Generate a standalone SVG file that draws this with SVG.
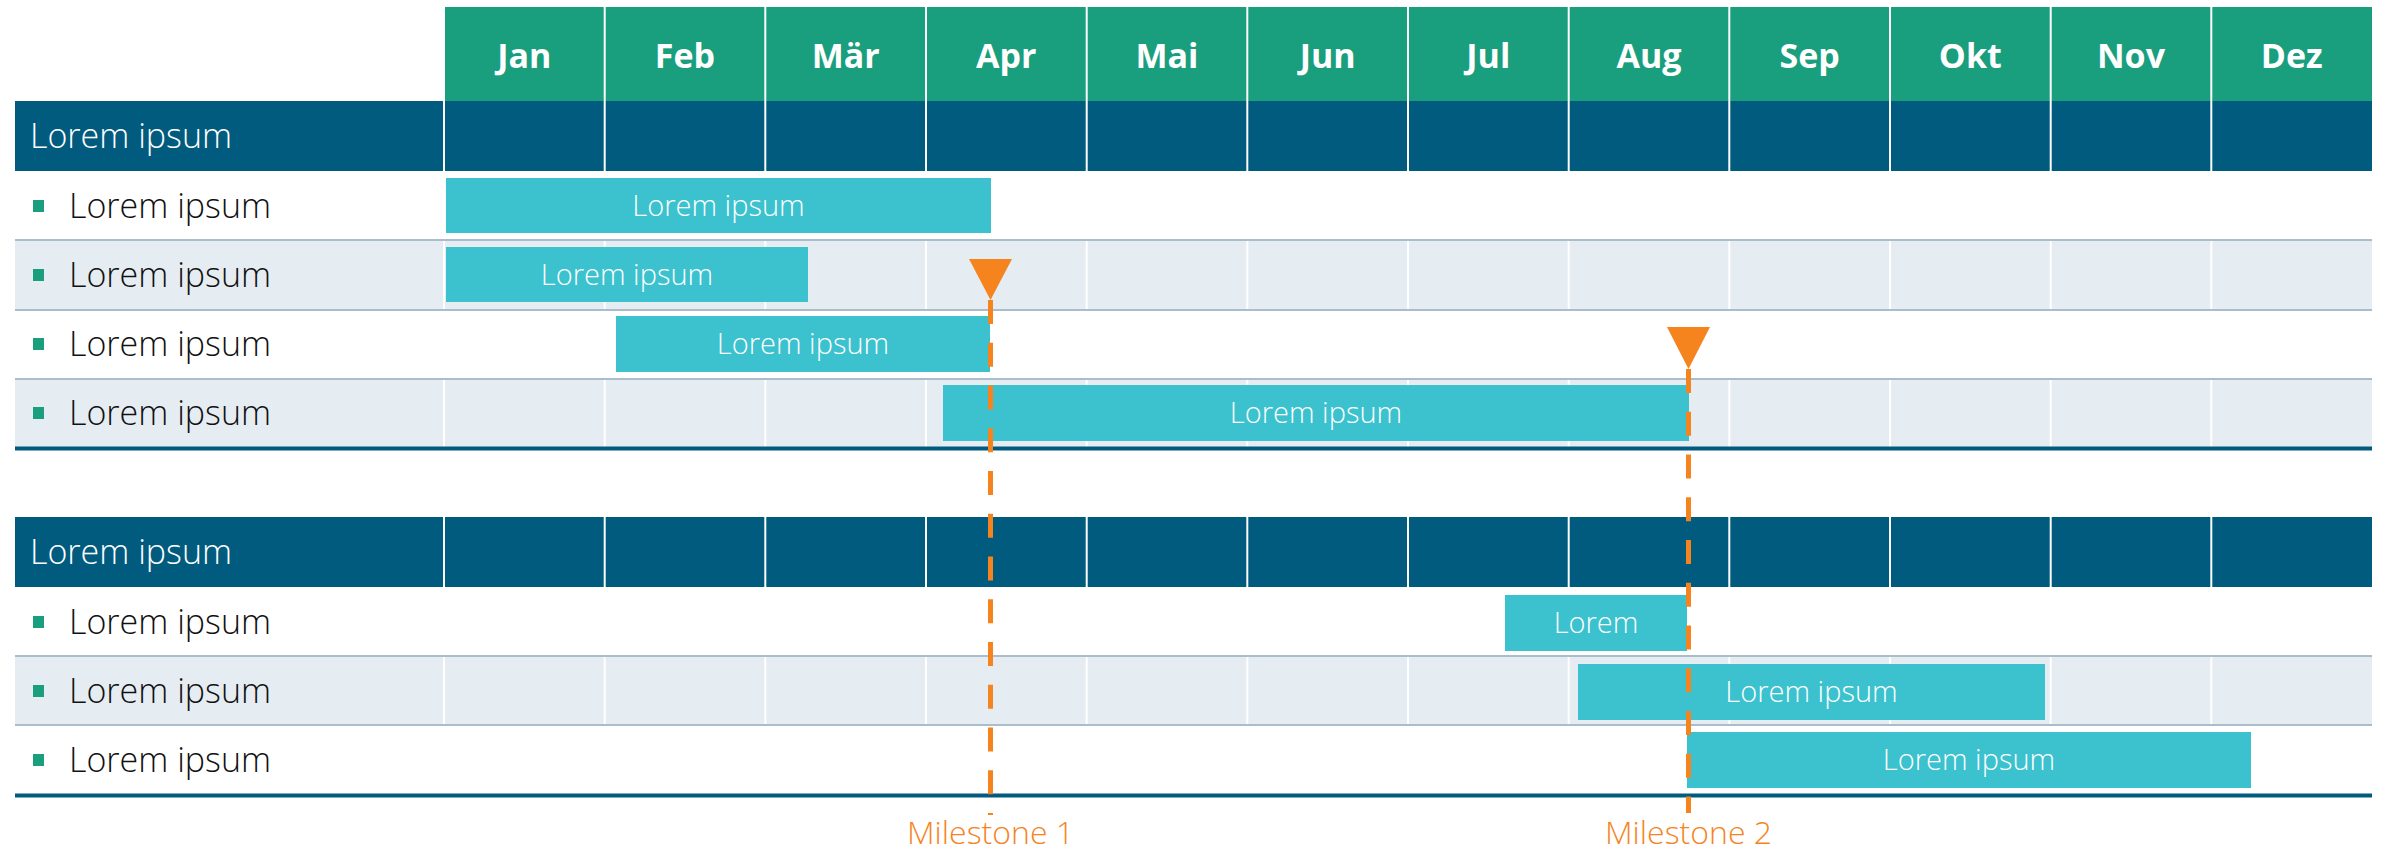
<svg xmlns="http://www.w3.org/2000/svg" width="2382" height="853" viewBox="0 0 2382 853">
<style>
.t{font-family:"Open Sans","Noto Sans","Liberation Sans",sans-serif;font-weight:300}
.month{font-family:"Open Sans","Noto Sans","Liberation Sans",sans-serif;font-weight:700;font-size:34px;fill:#ffffff;text-anchor:middle}
.sec{fill:#ffffff;font-size:34px}
.lbl{fill:#111111;font-size:34px}
.bartxt{fill:#ffffff;font-size:29px;text-anchor:middle}
.ms{fill:#f5841f;font-size:32px;text-anchor:middle}
.green{fill:#199e7e}
.dark{fill:#015b7e}
.light{fill:#e5edf3}
.bar{fill:#3bc2ce}
.bullet{fill:#199e7e}
.vsep{stroke:#ffffff;stroke-width:2}
.rsep{stroke:#a9bdca;stroke-width:2}
.bline{stroke:#015b7e;stroke-width:4}
.dash{stroke:#f5841f;stroke-width:5;stroke-dasharray:24 18.75;fill:none}
.tri{fill:#f5841f}
</style>
<defs>
<g id="vlines">
<line class="vsep" x1="444" y1="0" x2="444" y2="70"/>
<line class="vsep" x1="604.7" y1="0" x2="604.7" y2="70"/>
<line class="vsep" x1="765.3" y1="0" x2="765.3" y2="70"/>
<line class="vsep" x1="926" y1="0" x2="926" y2="70"/>
<line class="vsep" x1="1086.7" y1="0" x2="1086.7" y2="70"/>
<line class="vsep" x1="1247.3" y1="0" x2="1247.3" y2="70"/>
<line class="vsep" x1="1408" y1="0" x2="1408" y2="70"/>
<line class="vsep" x1="1568.7" y1="0" x2="1568.7" y2="70"/>
<line class="vsep" x1="1729.3" y1="0" x2="1729.3" y2="70"/>
<line class="vsep" x1="1890" y1="0" x2="1890" y2="70"/>
<line class="vsep" x1="2050.7" y1="0" x2="2050.7" y2="70"/>
<line class="vsep" x1="2211.3" y1="0" x2="2211.3" y2="70"/>
</g>
</defs>
<rect width="2382" height="853" fill="#ffffff"/>

<g id="month-header">
<rect class="green" x="445" y="7" width="1927" height="94"/>
<use href="#vlines" transform="translate(0,7) scale(1,1.343)"/>
<text class="month" x="524.3" y="68">Jan</text>
<text class="month" x="685" y="68">Feb</text>
<text class="month" x="845.7" y="68">Mär</text>
<text class="month" x="1006.3" y="68">Apr</text>
<text class="month" x="1167" y="68">Mai</text>
<text class="month" x="1327.7" y="68">Jun</text>
<text class="month" x="1488.3" y="68">Jul</text>
<text class="month" x="1649" y="68">Aug</text>
<text class="month" x="1809.7" y="68">Sep</text>
<text class="month" x="1970.3" y="68">Okt</text>
<text class="month" x="2131" y="68">Nov</text>
<text class="month" x="2291.7" y="68">Dez</text>
</g>

<g id="section-1">
<rect class="dark" x="15" y="101" width="2357" height="70"/>
<use href="#vlines" transform="translate(0,101)"/>
<text class="t sec" x="30" y="148">Lorem ipsum</text>
<rect class="light" x="15" y="240" width="2357" height="70"/>
<use href="#vlines" transform="translate(0,240)"/>
<rect class="light" x="15" y="379" width="2357" height="68"/>
<use href="#vlines" transform="translate(0,379) scale(1,0.971)"/>
<line class="rsep" x1="15" y1="240" x2="2372" y2="240"/>
<line class="rsep" x1="15" y1="310" x2="2372" y2="310"/>
<line class="rsep" x1="15" y1="379" x2="2372" y2="379"/>
<line class="bline" x1="15" y1="448.5" x2="2372" y2="448.5"/>
</g>

<g id="row-1-1"><rect class="bullet" x="33" y="200" width="11" height="12"/><text class="t lbl" x="69" y="218">Lorem ipsum</text></g>
<g id="row-1-2"><rect class="bullet" x="33" y="269" width="11" height="12"/><text class="t lbl" x="69" y="287">Lorem ipsum</text></g>
<g id="row-1-3"><rect class="bullet" x="33" y="338" width="11" height="12"/><text class="t lbl" x="69" y="356">Lorem ipsum</text></g>
<g id="row-1-4"><rect class="bullet" x="33" y="407" width="11" height="12"/><text class="t lbl" x="69" y="425">Lorem ipsum</text></g>

<g id="section-2">
<rect class="dark" x="15" y="517" width="2357" height="70"/>
<use href="#vlines" transform="translate(0,517)"/>
<text class="t sec" x="30" y="564">Lorem ipsum</text>
<rect class="light" x="15" y="656" width="2357" height="69"/>
<use href="#vlines" transform="translate(0,656) scale(1,0.986)"/>
<line class="rsep" x1="15" y1="656" x2="2372" y2="656"/>
<line class="rsep" x1="15" y1="725" x2="2372" y2="725"/>
<line class="bline" x1="15" y1="795.5" x2="2372" y2="795.5"/>
</g>

<g id="row-2-1"><rect class="bullet" x="33" y="616" width="11" height="12"/><text class="t lbl" x="69" y="634">Lorem ipsum</text></g>
<g id="row-2-2"><rect class="bullet" x="33" y="685" width="11" height="12"/><text class="t lbl" x="69" y="703">Lorem ipsum</text></g>
<g id="row-2-3"><rect class="bullet" x="33" y="754" width="11" height="12"/><text class="t lbl" x="69" y="772">Lorem ipsum</text></g>

<g id="bar-1-1"><rect class="bar" x="446" y="178" width="545" height="55"/><text class="t bartxt" x="718.5" y="216">Lorem ipsum</text></g>
<g id="bar-1-2"><rect class="bar" x="446" y="247" width="362" height="55"/><text class="t bartxt" x="627" y="285">Lorem ipsum</text></g>
<g id="bar-1-3"><rect class="bar" x="616" y="316" width="374" height="56"/><text class="t bartxt" x="803" y="354">Lorem ipsum</text></g>
<g id="bar-1-4"><rect class="bar" x="943" y="385" width="746" height="56"/><text class="t bartxt" x="1316" y="423">Lorem ipsum</text></g>
<g id="bar-2-1"><rect class="bar" x="1505" y="595" width="182" height="56"/><text class="t bartxt" x="1596" y="633">Lorem</text></g>
<g id="bar-2-2"><rect class="bar" x="1578" y="664" width="467" height="56"/><text class="t bartxt" x="1811.5" y="702">Lorem ipsum</text></g>
<g id="bar-2-3"><rect class="bar" x="1687" y="732" width="564" height="56"/><text class="t bartxt" x="1969" y="770">Lorem ipsum</text></g>

<g id="connectors">
<line class="dash" x1="990.5" y1="300" x2="990.5" y2="815"/>
<line class="dash" x1="1688.5" y1="369" x2="1688.5" y2="813"/>
</g>

<g id="milestone-1">
<polygon class="tri" points="969,259 1012,259 990.5,300"/>
<text class="t ms" x="990.5" y="844">Milestone 1</text>
</g>
<g id="milestone-2">
<polygon class="tri" points="1667,327 1710,327 1688.5,369"/>
<text class="t ms" x="1688.5" y="844">Milestone 2</text>
</g>
</svg>
